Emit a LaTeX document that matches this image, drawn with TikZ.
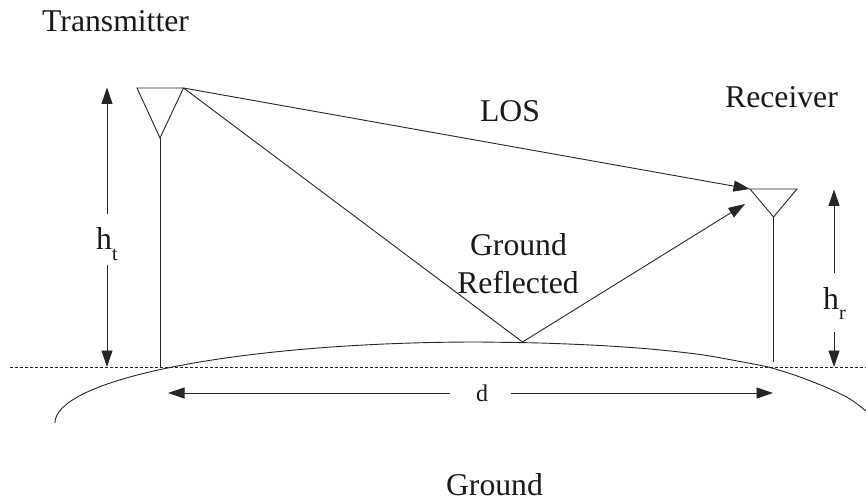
\documentclass[tikz,border=0pt]{standalone}
\usepackage{fontspec}
\setmainfont{Liberation Serif}
\usetikzlibrary{arrows.meta}
\newcommand{\lowsub}[1]{\raisebox{-10.5pt}{\fontsize{20}{24}\selectfont #1}}
\tikzset{
  line/.style={draw=black!85, line width=0.9pt},
  arr/.style={line, -{Triangle[length=16.5pt,width=11pt]}},
  lab/.style={anchor=base, inner sep=0pt, text=black!90, font=\fontsize{31.7}{36}\selectfont},
  dlab/.style={anchor=base, inner sep=0pt, text=black!90, font=\fontsize{24}{28}\selectfont},
}
\begin{document}
\begin{tikzpicture}[x=1pt,y=-1pt]
\useasboundingbox (0,0) rectangle (866,502);
\coordinate (tl) at (137,88);
\coordinate (tr) at (183.5,88);
\coordinate (ta) at (160,138);
\coordinate (tb) at (160,367);
\coordinate (rl) at (750,189);
\coordinate (rr) at (797,189);
\coordinate (ra) at (773.5,217);
\coordinate (rb) at (773.5,362);
\coordinate (refl) at (522.5,342);
\coordinate (rarr) at (745,204);
\coordinate (gl) at (10,367.5);
\coordinate (gr) at (866,367.5);
\coordinate (htt) at (107,87.5);
\coordinate (htm) at (107,214);
\coordinate (htn) at (107,265);
\coordinate (htb) at (107,367);
\coordinate (hrt) at (834,189.5);
\coordinate (hrm) at (834,273);
\coordinate (hrn) at (834,332);
\coordinate (hrb) at (834,367);
\coordinate (dl) at (168,393);
\coordinate (dlm) at (450,393);
\coordinate (drm) at (511,393);
\coordinate (dr) at (773,393);
% antennas
\draw[line] (tl) -- (tr) -- (ta) -- cycle;
\draw[line] (ta) -- (tb);
\draw[line] (rl) -- (rr) -- (ra) -- cycle;
\draw[line] (ra) -- (rb);
% rays
\draw[arr] (tr) -- (rl);
\draw[line] (tr) -- (refl);
\draw[arr] (refl) -- (rarr);
% ground
\draw[black!85, line width=0.7pt, dash pattern=on 3pt off 2pt] (gl) -- (gr);
\draw[line] plot[domain=180:90, samples=80, smooth] ({478+423*cos(\x)},{423-81*sin(\x)});
\draw[line] plot[smooth] coordinates {(478,342) (540,343) (600,345.5) (650,349) (700,354.5) (740,361.5) (770,367.5) (800,377) (830,389) (850,399) (866,411)};
% dimensions
\draw[arr] (htm) -- (htt);
\draw[arr] (htn) -- (htb);
\draw[arr] (hrm) -- (hrt);
\draw[arr] (hrn) -- (hrb);
\draw[arr] (dlm) -- (dl);
\draw[arr] (drm) -- (dr);
% labels
\node[lab, anchor=base west] (ntx) at (42,32) {Transmitter};
\node[lab] (nrx) at (781.5,108) {Receiver};
\node[lab] (nlos) at (510,122) {LOS};
\node[lab] (ng1) at (518.5,256) {Ground};
\node[lab] (ng2) at (518,294) {Reflected};
\node[lab, anchor=base west] (nht) at (96,250) {h\lowsub{t}};
\node[lab, anchor=base west] (nhr) at (823,309) {h\lowsub{r}};
\node[dlab] (nd) at (482,401) {d};
\node[lab] (nground) at (494.5,495) {Ground};
\end{tikzpicture}
\end{document}
